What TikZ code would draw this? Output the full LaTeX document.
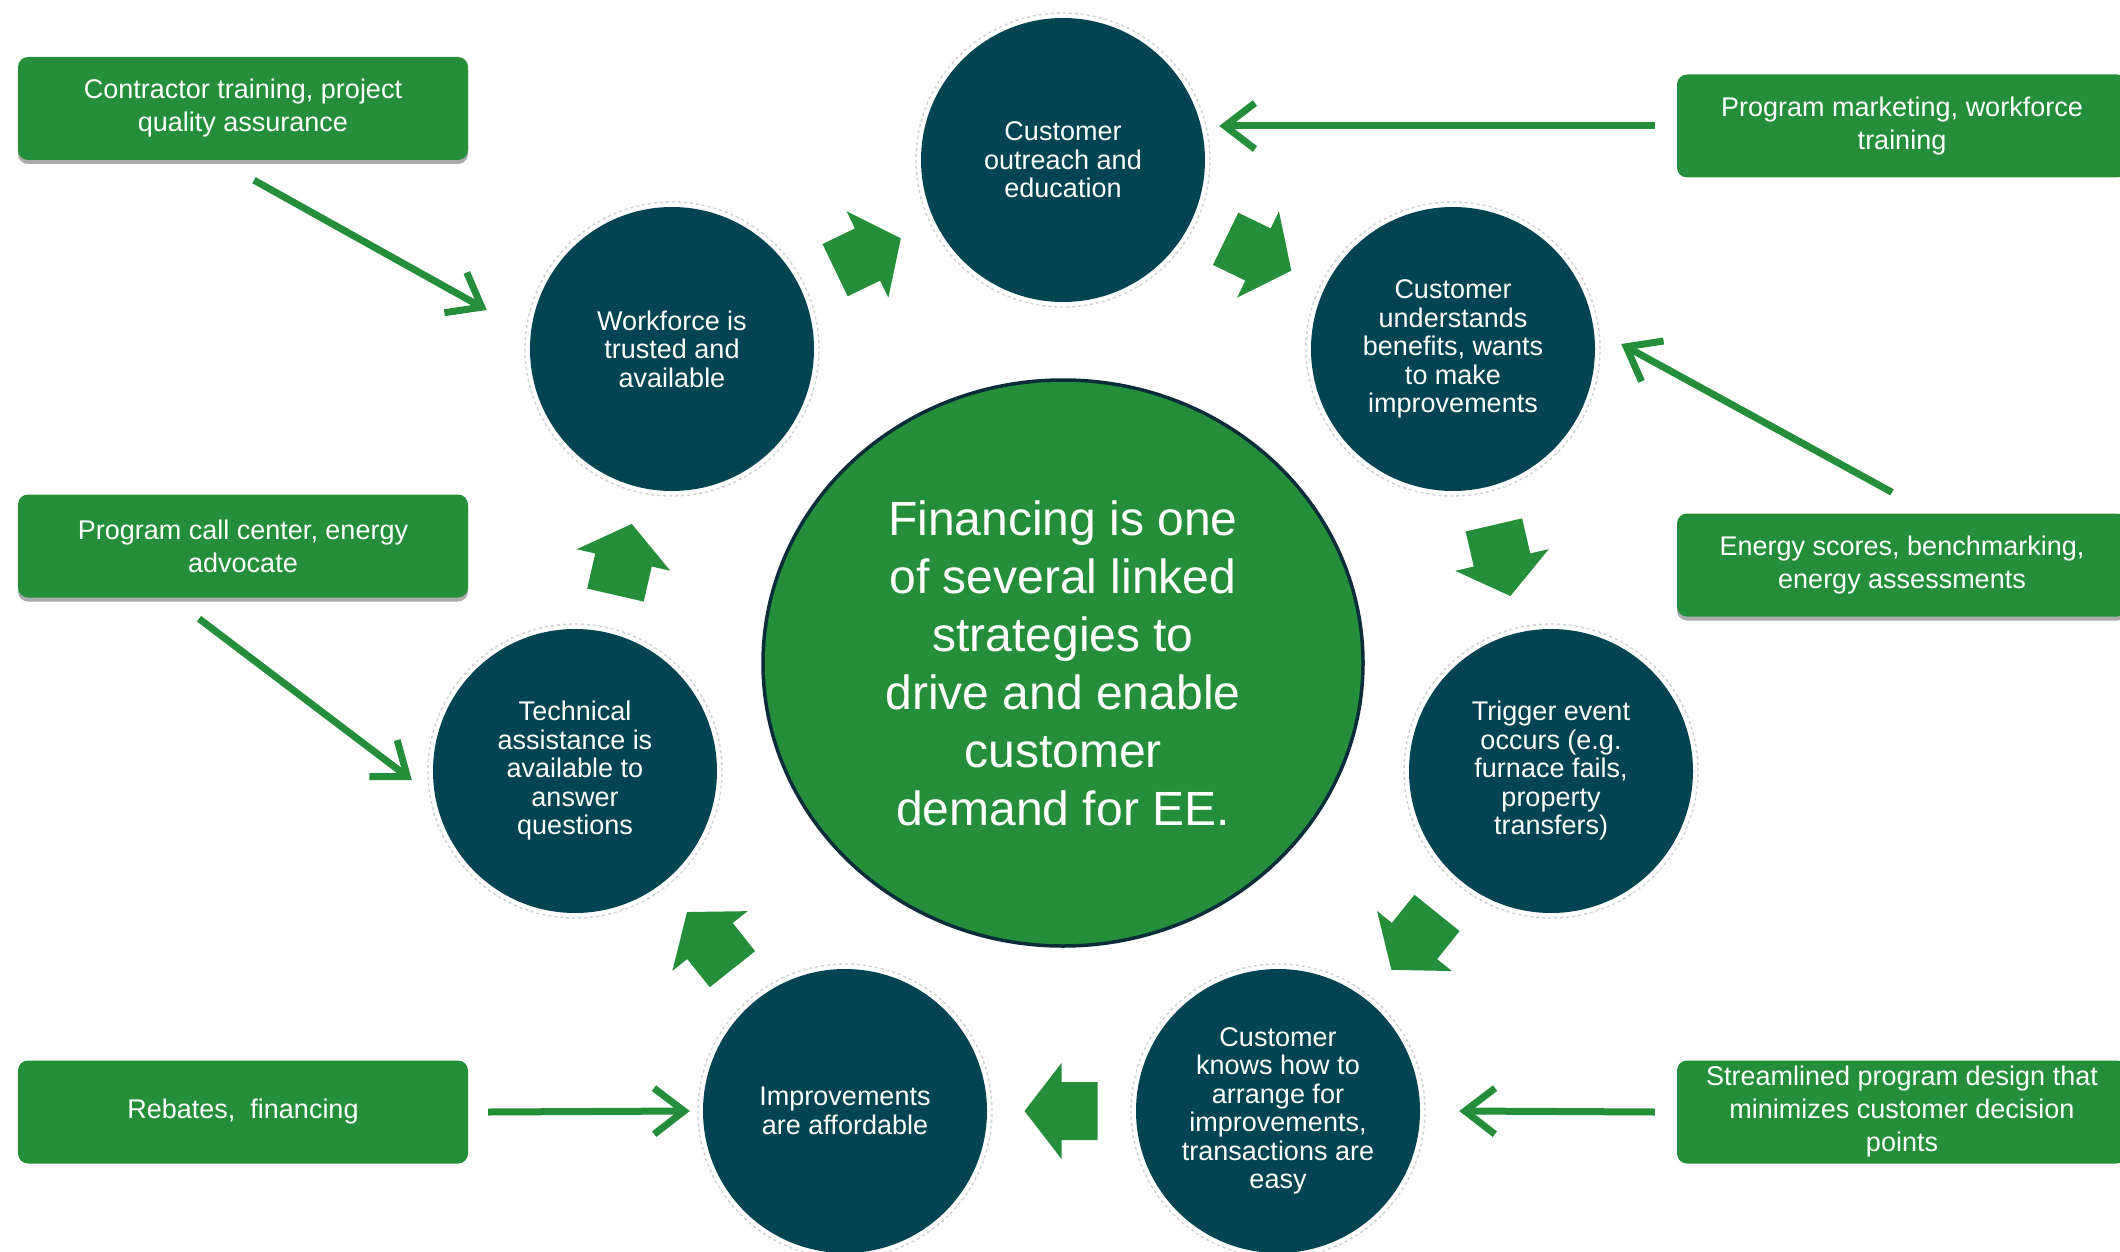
\documentclass[tikz,border=0pt]{standalone}
\usepackage{fontspec}
\setmainfont{Liberation Sans}
\usetikzlibrary{arrows.meta,calc,shapes.geometric,shadows}
\definecolor{leafgreen}{RGB}{36,142,58}
\definecolor{deepteal}{RGB}{2,68,82}
\definecolor{rimnavy}{RGB}{10,45,58}

\begin{document}
\begin{tikzpicture}[x=1pt,y=-1pt,
  stage/.style={circle, fill=deepteal, minimum size=284pt, inner sep=0pt,
    text=white, align=center, font=\fontsize{27}{28.5}\selectfont},
  lever/.style={rounded corners=10pt, fill=leafgreen, minimum width=450pt,
    minimum height=103pt, inner sep=0pt, text=white, align=center,
    font=\fontsize{27}{33}\selectfont},
  lifted/.style={drop shadow={shadow xshift=0pt, shadow yshift=-4pt,
    opacity=0.55, fill=black!60}},
  feed/.style={draw=leafgreen, line width=7pt,
    -{Straight Barb[length=30pt,width=46pt]}},
  halo/.style={draw=black!18, line width=1.4pt, dash pattern=on 3pt off 3pt},
  blockarrow/.pic={\fill[leafgreen] (-36,-29) -- (0,-29) -- (0,-48) -- (37,0)
    -- (0,48) -- (0,29) -- (-36,29) -- cycle;}
]
\useasboundingbox (0,0) rectangle (2120,1252);
\fill[white] (0,0) rectangle (2120,1252);

% central statement
\node (hub) [ellipse, fill=leafgreen, draw=rimnavy, line width=3.5pt,
  minimum width=600pt, minimum height=566pt, inner sep=0pt, text=white,
  align=center, font=\fontsize{48}{58}\selectfont] at (1063,663)
  {Financing is one\\of several linked\\strategies to\\drive and enable\\customer\\demand for EE.};

% the cycle of stages
\node (co) [stage] at (1063,160) {Customer\\outreach and\\education};
\node (cu) [stage] at (1453,349) {Customer\\understands\\benefits, wants\\to make\\improvements};
\node (tr) [stage] at (1551,771) {Trigger event\\occurs (e.g.\\furnace fails,\\property\\transfers)};
\node (ck) [stage] at (1278,1111) {Customer\\knows how to\\arrange for\\improvements,\\transactions are\\easy};
\node (im) [stage] at (845,1111) {Improvements\\are affordable};
\node (ta) [stage] at (575,771) {Technical\\assistance is\\available to\\answer\\questions};
\node (wf) [stage] at (672,349) {Workforce is\\trusted and\\available};

\foreach \n in {co,cu,tr,ck,im,ta,wf}
  \draw[halo] (\n) circle (147pt);

% block arrows half way between consecutive stages
\foreach \a/\b in {wf/co, co/cu, cu/tr, tr/ck, ck/im, im/ta, ta/wf}
  \path let \p1 = ($(\b)-(\a)$), \n1 = {atan2(\y1,\x1)} in
    pic[rotate=\n1] at ($(\a)!0.5!(\b)$) {blockarrow};

% supporting program elements
\node (b1) [lever, lifted] at (243,108.5) {Contractor training, project\\quality assurance};
\node (b2) [lever, lifted] at (243,546) {Program call center, energy\\advocate};
\node (b3) [lever] at (243,1112) {Rebates,\ \ financing};
\node (b4) [lever] at (1902,126) {Program marketing, workforce\\training};
\node (b5) [lever, lifted] at (1902,565) {Energy scores, benchmarking,\\energy assessments};
\node (b6) [lever] at (1902,1112) {Streamlined program design that\\minimizes customer decision\\points};

\draw[feed] ([shift={(11,20)}]b1.south) -- ([shift={(-43,-39)}]wf.west);
\draw[feed] ([shift={(-22,0)}]b4.west) -- ([shift={(14,-34)}]co.east);
\draw[feed] ([shift={(-10,-21)}]b5.north) -- ([shift={(26,-5)}]cu.east);
\draw[feed] ([shift={(-44,21)}]b2.south) -- ([shift={(-21,9)}]ta.west);
\draw[feed] ([shift={(20,0)}]b3.east) -- ([shift={(-13,0)}]im.west);
\draw[feed] ([shift={(-22,0)}]b6.west) -- ([shift={(39,0)}]ck.east);
\end{tikzpicture}
\end{document}
